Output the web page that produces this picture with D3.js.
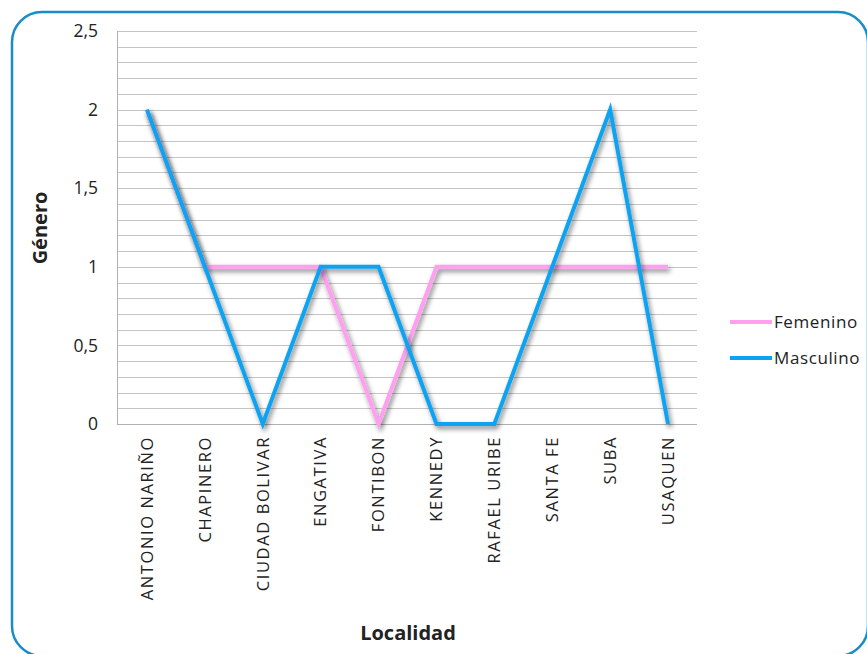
<!DOCTYPE html>
<html><head><meta charset="utf-8">
<script src="https://cdn.jsdelivr.net/npm/d3@7"></script>
<style>body{margin:0;background:#fff}svg text{font-family:"Open Sans","Noto Sans",sans-serif;fill:#222}</style>
</head><body>
<svg id="c" width="867" height="654"></svg>
<script>
const categories=["ANTONIO NARIÑO","CHAPINERO","CIUDAD BOLIVAR","ENGATIVA","FONTIBON","KENNEDY","RAFAEL URIBE","SANTA FE","SUBA","USAQUEN"];
const femenino=[2,1,1,1,0,1,1,1,1,1];
const masculino=[2,1,0,1,1,0,0,1,2,0];
const seriesNames=["Femenino","Masculino"];
const seriesColors=["#ff9ff0","#0aa3f2"];
const yTicks=[0,0.5,1,1.5,2,2.5];
const yTickLabels=["0","0,5","1","1,5","2","2,5"];

const svg=d3.select("#c");
svg.append("rect").attr("x",12).attr("y",12).attr("width",856).attr("height",644).attr("rx",30)
  .attr("fill","#fff").attr("stroke","#1a8cc6").attr("stroke-width",2.5);

const defs=svg.append("defs");
const f=defs.append("filter").attr("id","sh").attr("x","-20%").attr("y","-20%").attr("width","140%").attr("height","140%");
f.append("feDropShadow").attr("dx",2).attr("dy",3).attr("stdDeviation",2.4).attr("flood-color","#000").attr("flood-opacity",0.5);

const L=118,R=697,T=31,B=424;
const x=d3.scaleBand().domain(categories).range([L,R]);
const y=d3.scaleLinear().domain([0,2.5]).range([B,T]);

const minor=d3.range(0,26).map(i=>i/10);
svg.append("g").selectAll("line").data(minor).join("line")
  .attr("x1",L).attr("x2",R).attr("y1",d=>Math.round(y(d))+0.5).attr("y2",d=>Math.round(y(d))+0.5)
  .attr("stroke","#c4c4c4").attr("stroke-width",1);
svg.append("line").attr("x1",L-0.5).attr("x2",L-0.5).attr("y1",T).attr("y2",B+1).attr("stroke","#b0b0b0");
svg.append("line").attr("x1",L).attr("x2",R).attr("y1",Math.round(y(0))+0.5).attr("y2",Math.round(y(0))+0.5).attr("stroke","#b0b0b0");

const ya=svg.append("g").attr("transform",`translate(${L},0)`)
  .call(d3.axisLeft(y).tickValues(yTicks).tickFormat((d,i)=>yTickLabels[i]).tickSize(0).tickPadding(20));
ya.select(".domain").remove();
ya.selectAll("text").attr("font-size",17.5).attr("fill","#222").style("font-family","'Open Sans',sans-serif");

const xa=svg.append("g").attr("transform",`translate(0,${B})`)
  .call(d3.axisBottom(x).tickSize(0).tickPadding(0));
xa.select(".domain").remove();
xa.selectAll("text").attr("font-size",16.5).attr("text-anchor","end").attr("dy","0.35em")
  .attr("letter-spacing","1.6px")
  .attr("transform","translate(0,12) rotate(-90)").attr("x",0).attr("y",0)
  .attr("fill","#222").style("font-family","'Open Sans',sans-serif");

const line=d3.line().x((d,i)=>x(categories[i])+x.bandwidth()/2).y(d=>y(d));
[femenino,masculino].forEach((s,k)=>{
  svg.append("path").datum(s).attr("d",line).attr("fill","none").attr("stroke",seriesColors[k])
    .attr("stroke-width",4).attr("stroke-linejoin","miter").attr("filter","url(#sh)");
});

svg.append("text").attr("transform","translate(47,228) rotate(-90)").attr("text-anchor","middle")
  .attr("font-size",20).attr("font-weight","bold").text("Género");
svg.append("text").attr("x",408).attr("y",640).attr("text-anchor","middle")
  .attr("font-size",20).attr("font-weight","bold").text("Localidad");

const lg=svg.append("g");
seriesNames.forEach((n,i)=>{
  const yy=322+i*36;
  lg.append("line").attr("x1",730).attr("x2",772).attr("y1",yy).attr("y2",yy).attr("stroke",seriesColors[i]).attr("stroke-width",4);
  lg.append("text").attr("x",774).attr("y",yy).attr("dy","0.35em").attr("font-size",17).attr("letter-spacing","0.6px").text(n);
});
</script></body></html>
